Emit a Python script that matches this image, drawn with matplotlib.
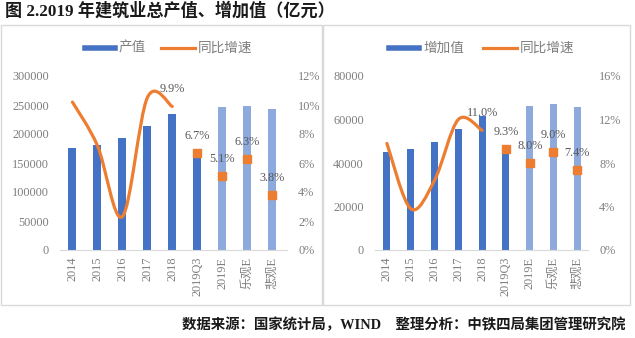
import numpy as np
import matplotlib
matplotlib.use("Agg")
import matplotlib.pyplot as plt
from matplotlib.path import Path
from matplotlib.patches import PathPatch, Rectangle
from matplotlib.lines import Line2D

plt.rcParams['font.family'] = ['Liberation Serif', 'Noto Sans CJK SC', 'DejaVu Sans']

# === Data (亿元 / %) ===
categories = ["2014", "2015", "2016", "2017", "2018", "2019Q3", "2019E", "乐观E", "悲观E"]
n_hist = 6  # bars drawn in dark blue (actual figures)

output_vals = [176700, 180800, 193600, 213900, 235100, 165000, 247000, 248500, 243500]
output_growth_hist = [10.2, 7.2, 2.3, 10.5, 9.9]
output_growth_est = [6.7, 5.1, 6.3, 3.8]

added_vals = [44900, 46600, 49700, 55700, 61800, 44500, 66200, 67100, 65800]
added_growth_hist = [9.8, 3.8, 6.4, 12.0, 11.0]
added_growth_est = [9.3, 8.0, 9.0, 7.4]

DARK_BLUE = "#4472C4"
LIGHT_BLUE = "#8EA9DB"
ORANGE = "#ED7D31"
GRAY = "#7F7F7F"
LABEL = "#595959"


def smooth_path(xs, ys):
    # Excel-style smoothed line: Catmull-Rom segments as cubic Bezier curves
    pts = list(zip(xs, ys))
    ext = [pts[0]] + pts + [pts[-1]]
    verts = [pts[0]]
    codes = [Path.MOVETO]
    for i in range(1, len(ext) - 2):
        p0, p1, p2, p3 = ext[i - 1], ext[i], ext[i + 1], ext[i + 2]
        c1 = (p1[0] + (p2[0] - p0[0]) / 6, p1[1] + (p2[1] - p0[1]) / 6)
        c2 = (p2[0] - (p3[0] - p1[0]) / 6, p2[1] - (p3[1] - p1[1]) / 6)
        verts += [c1, c2, p2]
        codes += [Path.CURVE4] * 3
    return Path(verts, codes)


def draw_panel(rect, vals, g_hist, g_est, ymax, ystep, pmax, pstep, width, xright):
    ax = fig.add_axes(rect)
    x = np.arange(len(categories))
    colors = [DARK_BLUE] * n_hist + [LIGHT_BLUE] * (len(categories) - n_hist)
    ax.bar(x, vals, width=width, color=colors, zorder=2)
    ax.set_ylim(0, ymax)
    ax.set_yticks(np.arange(0, ymax + 1, ystep))
    ax.set_xlim(-0.5, xright)
    ax.set_xticks(x)
    ax.set_xticklabels(categories, rotation=90)
    for s in ["top", "left", "right"]:
        ax.spines[s].set_visible(False)
    ax.spines["bottom"].set_color("#D9D9D9")
    ax.tick_params(length=0, colors=GRAY, labelsize=8.8)
    ax.tick_params(axis="x", pad=5)
    ax.tick_params(axis="y", pad=8)

    ax2 = ax.twinx()
    ax2.set_ylim(0, pmax)
    ax2.set_yticks(np.arange(0, pmax + 0.1, pstep))
    ax2.set_yticklabels([f"{int(v)}%" for v in np.arange(0, pmax + 0.1, pstep)])
    for s in ax2.spines.values():
        s.set_visible(False)
    ax2.tick_params(length=0, colors=GRAY, labelsize=8.8, pad=8)

    xh = np.arange(len(g_hist))
    ax2.add_patch(PathPatch(smooth_path(xh, g_hist), facecolor="none",
                            edgecolor=ORANGE, lw=2.3, capstyle="round", zorder=3))
    ax2.annotate(f"{g_hist[-1]:.1f}%", (xh[-1], g_hist[-1]), xytext=(0, 17),
                 textcoords="offset pixels", ha="center", va="center",
                 fontsize=8.8, color=LABEL)

    xe = np.arange(len(g_hist), len(g_hist) + len(g_est))
    ax2.plot(xe, g_est, ls="none", marker="s", ms=5.5, color=ORANGE, zorder=4)
    for xi, v in zip(xe, g_est):
        ax2.annotate(f"{v:.1f}%", (xi, v), xytext=(0, 17), textcoords="offset pixels",
                     ha="center", va="center", fontsize=8.8, color=LABEL)
    return ax


fig = plt.figure(figsize=(6.35, 3.38), dpi=100)
W, H = 635, 338

def fx(px):
    return px / W

def fy(py):
    return 1 - py / H

# panel frames
for x0, x1 in [(1, 322), (323, 630)]:
    fig.add_artist(Rectangle((fx(x0), fy(305)), fx(x1 - x0), (305 - 25) / H,
                             transform=fig.transFigure, fill=False,
                             edgecolor="#D9D9D9", lw=1.0))

draw_panel([fx(60), fy(250), fx(227), 174 / H], output_vals, output_growth_hist,
           output_growth_est, 300000, 50000, 12, 2, 0.32, 8.6)
draw_panel([fx(375), fy(250), fx(213), 174 / H], added_vals, added_growth_hist,
           added_growth_est, 80000, 20000, 16, 4, 0.3, 8.45)

# legends
def legend(x_patch, name, x_line):
    y = fy(48)
    fig.add_artist(Line2D([fx(x_patch), fx(x_patch + 30)], [y, y], lw=4,
                          color=DARK_BLUE, transform=fig.transFigure))
    fig.text(fx(x_patch + 34), y, name, fontsize=9.8, color=GRAY, va="center")
    fig.add_artist(Line2D([fx(x_line), fx(x_line + 34)], [y, y], lw=2.3,
                          color=ORANGE, transform=fig.transFigure))
    fig.text(fx(x_line + 37), y, "同比增速", fontsize=9.8, color=GRAY, va="center")

legend(85, "产值", 161)
legend(389, "增加值", 483)

fig.text(fx(5), fy(11), "图 2.2019 年建筑业总产值、增加值（亿元）", fontsize=12.3,
         fontweight="bold", va="center", color="#1A1A1A")
fig.text(fx(626), fy(325), "数据来源：国家统计局，WIND　整理分析：中铁四局集团管理研究院",
         fontsize=10.4, fontweight="bold", va="center", ha="right", color="#1A1A1A")

fig.savefig("out.png", dpi=100, facecolor="white")
